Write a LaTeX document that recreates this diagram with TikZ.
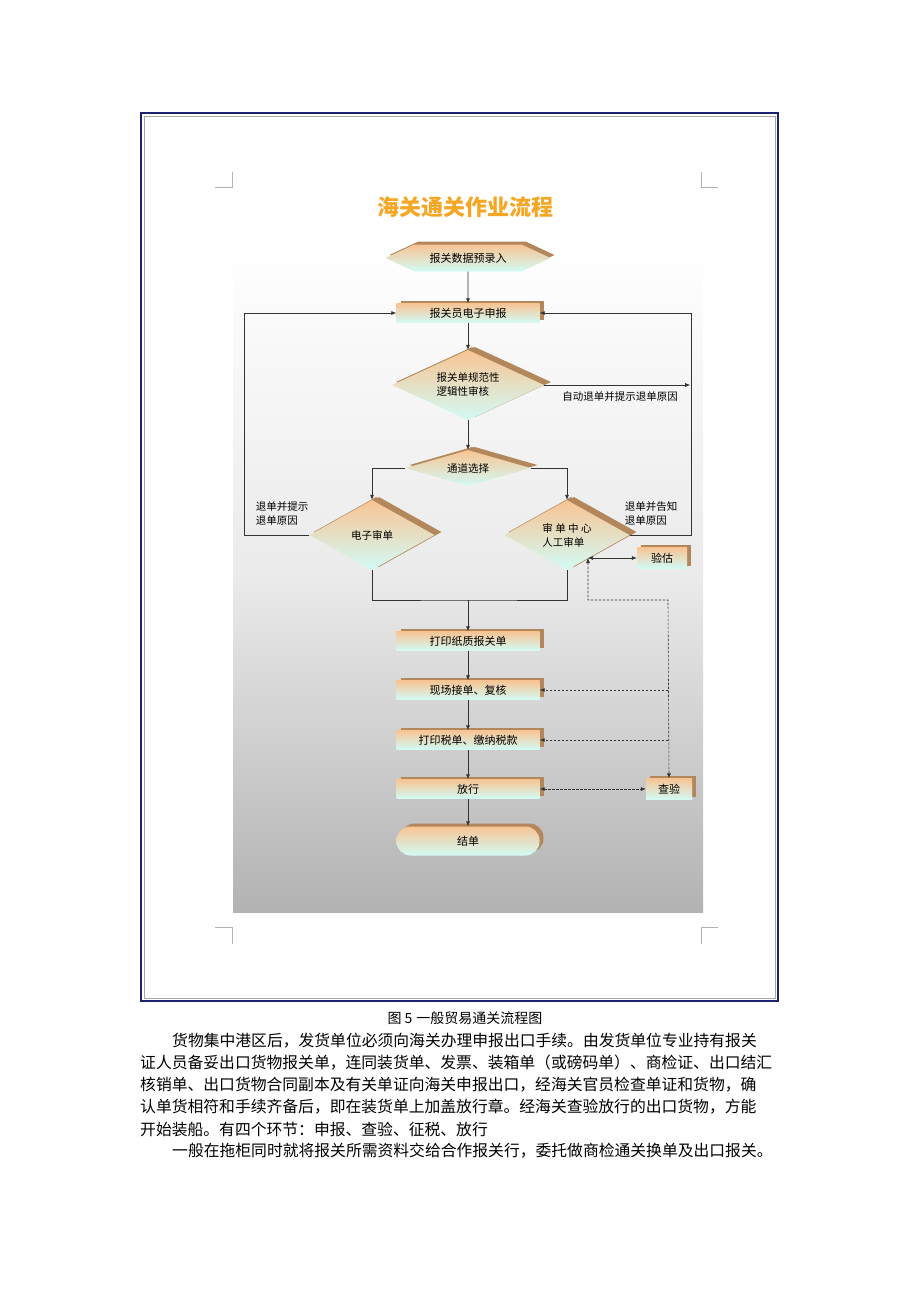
\documentclass[tikz,border=0pt]{standalone}
\usepackage{fontspec}
\setmainfont{Noto Sans CJK SC}
\usetikzlibrary{shapes.geometric,shapes.symbols,shadows,arrows.meta}
\definecolor{boxtop}{HTML}{F8C493}
\definecolor{boxbot}{HTML}{D2FBF6}
\definecolor{ext}{HTML}{B3875C}
\definecolor{navy}{HTML}{1C2370}
\definecolor{ttl}{HTML}{F5A623}
\begin{document}
\begin{tikzpicture}[x=1pt,y=-1pt,
  base/.style={draw=none,top color=boxtop,bottom color=boxbot,inner sep=0pt,font=\fontsize{11}{13}\selectfont,
    drop shadow={shadow xshift=4pt,shadow yshift=3pt,fill=ext,opacity=1}},
  box/.style={base,rectangle,minimum width=143pt,minimum height=19pt},
  sbox/.style={base,rectangle,minimum width=50pt,minimum height=21pt},
  dia/.style={base,diamond,drop shadow={shadow xshift=7pt,shadow yshift=3pt,fill=ext,opacity=1}},
  ar/.style={-{Latex[length=5pt,width=4pt]},line width=0.6pt,draw=black!80},
  dar/.style={{Latex[length=5pt,width=4pt]}-{Latex[length=5pt,width=4pt]},line width=0.6pt,draw=black!80},
  dsh/.style={dashed,dash pattern=on 2.5pt off 1.5pt},
  lbl/.style={font=\fontsize{10.5}{14}\selectfont,align=left},
  corner/.style={draw=gray!60,line width=0.6pt},
  para/.style={anchor=west,inner sep=0pt,font=\fontsize{15.8}{18}\selectfont}]
\useasboundingbox (0,0) rectangle (920,1302);
% frame
\draw[navy,line width=2.5pt] (141,113) rectangle (778,1001);
\draw[gray!70,line width=0.6pt] (144,116) rectangle (775,998);
% corner marks
\draw[corner] (215,187) -- (232,187) -- (232,172);
\draw[corner] (718,187) -- (701,187) -- (701,172);
\draw[corner] (215,927) -- (232,927) -- (232,944);
\draw[corner] (718,927) -- (701,927) -- (701,944);
% panel
\shade[top color=white,bottom color=black!30,middle color=black!8] (233,240) rectangle (703,912);
% title
\node[font=\fontsize{22}{24}\selectfont\bfseries,text=ttl] (title) at (465,207) {海关通关作业流程};
% nodes
\node[base,signal,signal to=east and west,signal pointer angle=50,minimum width=165pt,minimum height=27pt] (hex) at (468,258) {报关数据预录入};
\node[box] (b1) at (468,313) {报关员电子申报};
\node[dia,minimum width=152pt,minimum height=70pt,label={[lbl]center:报关单规范性\\逻辑性审核}] (d1) at (468,385) {};
\node[dia,minimum width=125pt,minimum height=36pt,label={[lbl]center:通道选择}] (d2) at (468,468) {};
\node[dia,minimum width=125pt,minimum height=70pt,label={[lbl]center:电子审单}] (d3) at (372,535) {};
\node[dia,minimum width=125pt,minimum height=70pt,label={[lbl]center:审 单 中 心\\人工审单}] (d4) at (567,535) {};
\node[sbox] (yg) at (662,558) {验估};
\node[box] (p1) at (468,641) {打印纸质报关单};
\node[box] (p2) at (468,690) {现场接单、复核};
\node[box] (p3) at (468,740) {打印税单、缴纳税款};
\node[box] (p4) at (468,789) {放行};
\node[sbox,minimum width=46pt] (cy) at (669,789) {查验};
\node[base,rectangle,rounded corners=14pt,minimum width=143pt,minimum height=29pt] (end) at (468,841) {结单};
% labels
\node[lbl] (t1) at (620,397) {自动退单并提示退单原因};
\node[lbl] (t2) at (282,513) {退单并提示\\退单原因};
\node[lbl] (t3) at (651,513) {退单并告知\\退单原因};
\coordinate (m) at (468,600);
\coordinate (v) at (588,558);
\coordinate (vc) at (668,600);
% connectors
\draw[ar] (hex) -- (b1);
\draw[ar] (b1) -- (d1.north);
\draw[ar] (d1.south) -- (d2.north);
\draw[ar] (d1.east) -- ++(146,0);
\draw[ar] (d3.west) -- ++(-65,0) |- (b1.west);
\draw[ar] (d4.east) -- ++(62,0) |- (b1.east);
\draw[ar] (d2.west) -| (d3.north);
\draw[ar] (d2.east) -| (d4.north);
\draw[line width=0.6pt,black!80] (d3.south) |- (m) -| (d4.south);
\draw[ar] (m) -- (p1);
\draw[ar] (p1) -- (p2);
\draw[ar] (p2) -- (p3);
\draw[ar] (p3) -- (p4);
\draw[ar] (p4) -- (end);
\draw[dar] (v) -- (yg.west);
\draw[dar,dsh] (v) |- (vc) -- (cy.north);
\draw[ar,dsh] (vc |- p2) -- (p2.east);
\draw[ar,dsh] (vc |- p3) -- (p3.east);
\draw[dar,dsh] (p4.east) -- (cy.west);
% caption and text
\node[font=\fontsize{14}{16}\selectfont] (cap) at (465,1018) {图 5\hspace{4pt}一般贸易通关流程图};
\node[para] (l1) at (172,1041) {货物集中港区后，发货单位必须向海关办理申报出口手续。由发货单位专业持有报关};
\node[para] (l2) at (140,1063) {证人员备妥出口货物报关单，连同装货单、发票、装箱单（或磅码单）、商检证、出口结汇};
\node[para] (l3) at (140,1085) {核销单、出口货物合同副本及有关单证向海关申报出口，经海关官员检查单证和货物，确};
\node[para] (l4) at (140,1107) {认单货相符和手续齐备后，即在装货单上加盖放行章。经海关查验放行的出口货物，方能};
\node[para] (l5) at (140,1129) {开始装船。有四个环节：申报、查验、征税、放行};
\node[para] (l6) at (172,1151) {一般在拖柜同时就将报关所需资料交给合作报关行，委托做商检通关换单及出口报关。};
\end{tikzpicture}
\end{document}
